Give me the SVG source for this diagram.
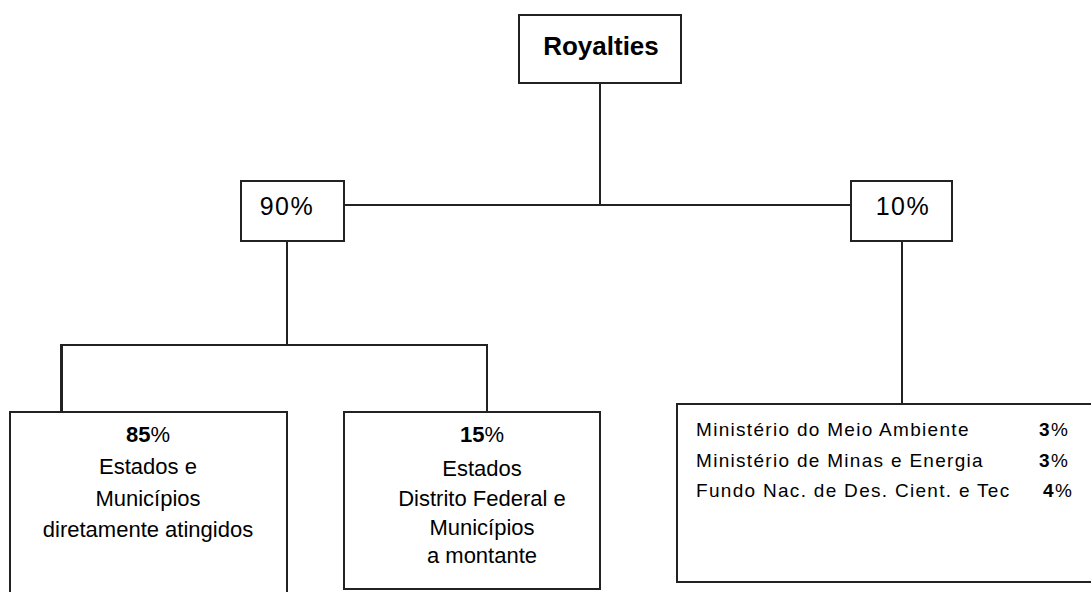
<svg xmlns="http://www.w3.org/2000/svg" width="1091" height="592" viewBox="0 0 1091 592">
<style>
.box{fill:#fff;stroke:#222;stroke-width:2}
.ln{fill:none;stroke:#222;stroke-width:2}
text{font-family:"Liberation Sans",Arial,sans-serif;fill:#000}
.big{font-size:22px;text-anchor:middle}
.sm{font-size:19px;letter-spacing:1.3px}
.pct{font-size:25px;text-anchor:middle;letter-spacing:1.5px}
.b{font-weight:bold}
</style>
<rect width="1091" height="592" fill="#fff"/>
<g id="connectors">
<path class="ln" d="M600,83 V205"/>
<path class="ln" d="M344,205 H851"/>
<path class="ln" d="M287,241 V345"/>
<path class="ln" d="M60,345 H488"/>
<path class="ln" d="M61.5,345 V412" style="stroke-width:3"/>
<path class="ln" d="M487,345 V412"/>
<path class="ln" d="M902,241 V404"/>
</g>
<g id="royalties">
<rect class="box" x="519" y="15" width="162" height="68"/>
<text x="601" y="55" font-size="26" font-weight="bold" text-anchor="middle">Royalties</text>
</g>
<g id="n90">
<rect class="box" x="241" y="181" width="103" height="60"/>
<text class="pct" x="287" y="215">90%</text>
</g>
<g id="n10">
<rect class="box" x="851" y="181" width="101" height="60"/>
<text class="pct" x="903" y="215">10%</text>
</g>
<g id="n85">
<path class="box" d="M10,600 V412 H287 V600"/>
<text class="big" x="148" y="442"><tspan class="b">85</tspan>%</text>
<text class="big" x="148" y="474">Estados e</text>
<text class="big" x="148" y="506">Municípios</text>
<text class="big" x="148" y="537">diretamente atingidos</text>
</g>
<g id="n15">
<rect class="box" x="344" y="412" width="256" height="177"/>
<text class="big" x="482" y="442"><tspan class="b">15</tspan>%</text>
<text class="big" x="482" y="476">Estados</text>
<text class="big" x="482" y="506">Distrito Federal e</text>
<text class="big" x="482" y="535">Municípios</text>
<text class="big" x="482" y="563">a montante</text>
</g>
<g id="nMin">
<rect class="box" x="677" y="404" width="420" height="178"/>
<text class="sm" x="696" y="436">Ministério do Meio Ambiente</text>
<text class="sm" x="696" y="467">Ministério de Minas e Energia</text>
<text class="sm" x="696" y="497">Fundo Nac. de Des. Cient. e Tec</text>
<text class="sm" x="1039" y="436"><tspan class="b">3</tspan>%</text>
<text class="sm" x="1039" y="467"><tspan class="b">3</tspan>%</text>
<text class="sm" x="1043" y="497"><tspan class="b">4</tspan>%</text>
</g>
</svg>
